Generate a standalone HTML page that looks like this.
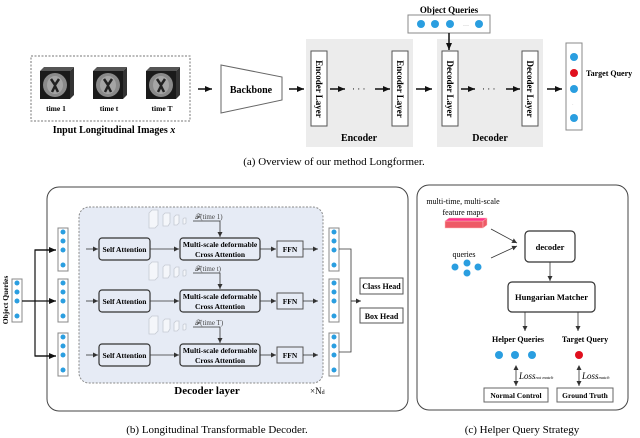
<!DOCTYPE html>
<html><head><meta charset="utf-8"><style>
html,body{margin:0;padding:0;background:#fff}
svg{display:block;font-family:"Liberation Serif",serif}
.b{font-weight:bold}
</style></head><body>
<svg width="640" height="438" viewBox="0 0 640 438" xmlns="http://www.w3.org/2000/svg">
<defs>
<marker id="a" markerWidth="8" markerHeight="8" refX="7" refY="4" orient="auto" markerUnits="userSpaceOnUse"><path d="M0,1 L7,4 L0,7 z" fill="#111"/></marker>
<marker id="s" markerWidth="6" markerHeight="6" refX="5" refY="3" orient="auto" markerUnits="userSpaceOnUse"><path d="M0,0.5 L5,3 L0,5.5 z" fill="#333"/></marker>
<marker id="s2" markerWidth="6" markerHeight="6" refX="1" refY="3" orient="auto" markerUnits="userSpaceOnUse"><path d="M5,0.5 L0,3 L5,5.5 z" fill="#333"/></marker>
<g id="cube">
<path d="M0,4 L4,0 L34,0 L30,4 z" fill="#555"/><path d="M30,4 L34,0 L34,28 L30,32 z" fill="#333"/>
<rect x="0" y="4" width="30" height="28" fill="#1a1a1a"/>
<ellipse cx="15" cy="18" rx="12" ry="12" fill="#8a8a8a"/>
<ellipse cx="15" cy="18" rx="8" ry="9" fill="#a5a5a5"/>
<path d="M11,12 L15,18 L19,12 M12,25 L15,19 L18,25" stroke="#222" stroke-width="2.5" fill="none"/>
</g>
</defs>

<!-- (a) -->
<text x="449" y="13" font-size="9" class="b" text-anchor="middle">Object Queries</text>
<rect x="408" y="15" width="82" height="18" fill="#fff" stroke="#888"/>
<circle cx="421" cy="24" r="4" fill="#2a9ee0"/><circle cx="435" cy="24" r="4" fill="#2a9ee0"/><circle cx="450" cy="24" r="4" fill="#2a9ee0"/><text x="463" y="26" font-size="6" fill="#999">…</text><circle cx="479" cy="24" r="4" fill="#2a9ee0"/>
<rect x="31" y="56" width="159" height="65" fill="none" stroke="#777" stroke-dasharray="2,1.5"/>
<use href="#cube" x="40" y="67"/><use href="#cube" x="93" y="67"/><use href="#cube" x="146" y="67"/>
<text x="56" y="111" font-size="7.5" class="b" text-anchor="middle">time 1</text>
<text x="109" y="111" font-size="7.5" class="b" text-anchor="middle">time t</text>
<text x="162" y="111" font-size="7.5" class="b" text-anchor="middle">time T</text>
<text x="114" y="133" font-size="10" class="b" text-anchor="middle">Input Longitudinal Images <tspan font-style="italic">x</tspan></text>
<line x1="198" y1="89" x2="212" y2="89" stroke="#111" stroke-width="1.5" marker-end="url(#a)"/>
<path d="M221,65 L282,77 L282,100 L221,113 z" fill="#fff" stroke="#666"/>
<text x="251" y="93" font-size="10" class="b" text-anchor="middle">Backbone</text>
<line x1="289" y1="89" x2="304" y2="89" stroke="#111" stroke-width="1.5" marker-end="url(#a)"/>
<rect x="306" y="39" width="107" height="108" fill="#ececec"/>
<rect x="437" y="39" width="106" height="108" fill="#ececec"/>
<rect x="311" y="51" width="16" height="75" fill="#fff" stroke="#555"/>
<rect x="392" y="51" width="16" height="75" fill="#fff" stroke="#555"/>
<rect x="442" y="51" width="16" height="75" fill="#fff" stroke="#555"/>
<rect x="522" y="51" width="16" height="75" fill="#fff" stroke="#555"/>
<g font-size="9" class="b" text-anchor="middle">
<text transform="translate(316,89) rotate(90)">Encoder Layer</text>
<text transform="translate(397,89) rotate(90)">Encoder Layer</text>
<text transform="translate(447,89) rotate(90)">Decoder Layer</text>
<text transform="translate(527,89) rotate(90)">Decoder Layer</text>
</g>
<g stroke="#111" stroke-width="1.5" marker-end="url(#a)">
<line x1="330" y1="89" x2="345" y2="89"/><line x1="375" y1="89" x2="390" y2="89"/>
<line x1="416" y1="89" x2="432" y2="89"/><line x1="461" y1="89" x2="475" y2="89"/>
<line x1="506" y1="89" x2="520" y2="89"/><line x1="547" y1="89" x2="562" y2="89"/>
<line x1="449" y1="33" x2="449" y2="50"/>
</g>
<text x="352" y="92" font-size="9">· · ·</text><text x="482" y="92" font-size="9">· · ·</text>
<text x="359" y="141" font-size="10" class="b" text-anchor="middle">Encoder</text>
<text x="490" y="141" font-size="10" class="b" text-anchor="middle">Decoder</text>
<rect x="566" y="43" width="16" height="87" fill="#fff" stroke="#888"/>
<circle cx="574" cy="57" r="4" fill="#2a9ee0"/><circle cx="574" cy="73" r="4" fill="#e0101e"/><circle cx="574" cy="89" r="4" fill="#2a9ee0"/><text x="572" y="106" font-size="5" fill="#aaa">·</text><circle cx="574" cy="118" r="4" fill="#2a9ee0"/>
<text x="586" y="76" font-size="8" class="b">Target Query</text>
<text x="334" y="165" font-size="11" text-anchor="middle">(a) Overview of our method Longformer.</text>

<!-- (b) -->
<rect x="47" y="187" width="361" height="224" rx="12" fill="#fff" stroke="#444"/>
<rect x="79" y="207" width="244" height="176" rx="10" fill="#e6ebf5" stroke="#888" stroke-dasharray="2,1.5"/>
<text transform="translate(8,300) rotate(-90)" font-size="7.5" class="b" text-anchor="middle">Object Queries</text>
<g id="col"><rect x="12" y="279" width="10" height="43" fill="#fff" stroke="#888"/>
<circle cx="17" cy="283" r="2.5" fill="#2a9ee0"/><circle cx="17" cy="292" r="2.5" fill="#2a9ee0"/><circle cx="17" cy="301" r="2.5" fill="#2a9ee0"/><circle cx="17" cy="316" r="2.5" fill="#2a9ee0"/></g>
<use href="#col" x="46" y="-51"/><use href="#col" x="46" y="0"/><use href="#col" x="46" y="54"/>
<use href="#col" x="317" y="-51"/><use href="#col" x="317" y="0"/><use href="#col" x="317" y="54"/>
<g stroke="#111" stroke-width="1.2" fill="none">
<line x1="22" y1="301" x2="56" y2="301" marker-end="url(#a)"/>
<path d="M56,250 L35,250 L35,356 L56,356"/>
<line x1="35" y1="250" x2="56" y2="250" marker-end="url(#a)"/>
<line x1="35" y1="356" x2="56" y2="356" marker-end="url(#a)"/>
</g>
<g id="row">
<line x1="86" y1="249" x2="98" y2="249" stroke="#333" stroke-width="0.8" marker-end="url(#s)"/>
<rect x="99" y="238" width="51" height="22" rx="3" fill="none" stroke="#333" stroke-width="1.2"/>
<text x="124.5" y="252" font-size="7.5" class="b" text-anchor="middle">Self Attention</text>
<line x1="150" y1="249" x2="179" y2="249" stroke="#333" stroke-width="0.8" marker-end="url(#s)"/>
<rect x="180" y="238" width="80" height="22" rx="3" fill="none" stroke="#333" stroke-width="1.2"/>
<text x="220" y="247" font-size="7.5" class="b" text-anchor="middle">Multi-scale deformable</text>
<text x="220" y="257" font-size="7.5" class="b" text-anchor="middle">Cross Attention</text>
<line x1="260" y1="249" x2="276" y2="249" stroke="#333" stroke-width="0.8" marker-end="url(#s)"/>
<rect x="277" y="241" width="26" height="16" fill="none" stroke="#555"/>
<text x="290" y="252" font-size="7.5" class="b" text-anchor="middle">FFN</text>
<line x1="303" y1="249" x2="318" y2="249" stroke="#333" stroke-width="0.8" marker-end="url(#s)"/>
<path d="M193,221 L220,221 L220,237" fill="none" stroke="#333" stroke-width="0.8" marker-end="url(#s)"/>
<g fill="#f4f6fa" stroke="#c5cad3" stroke-width="0.8">
<path d="M149,213 L152,210 L158,210 L158,225 L155,228 L149,228 z"/>
<path d="M163,215 L165,213 L170,213 L170,223 L168,226 L163,226 z"/>
<path d="M174,217 L176,215 L179,215 L179,223 L177,225 L174,225 z"/>
<path d="M183,219 L184,218 L186,218 L186,223 L185,224 L183,224 z"/>
</g>
</g>
<use href="#row" x="0" y="52"/><use href="#row" x="0" y="106"/>
<text x="195" y="219" font-size="7" fill="#444">𝓕(time 1)</text>
<text x="195" y="271" font-size="7" fill="#444">𝓕(time t)</text>
<text x="195" y="325" font-size="7" fill="#444">𝓕(time T)</text>
<path d="M339,249 L351,249 L351,352 L339,352 M351,301 L360,301" fill="none" stroke="#333" stroke-width="0.8"/>
<line x1="351" y1="301" x2="361" y2="301" stroke="#333" stroke-width="0.8" marker-end="url(#s)"/>
<rect x="360" y="278" width="43" height="16" fill="#fff" stroke="#555"/>
<text x="381.5" y="289" font-size="8" class="b" text-anchor="middle">Class Head</text>
<rect x="360" y="308" width="43" height="15" fill="#fff" stroke="#555"/>
<text x="381.5" y="319" font-size="8" class="b" text-anchor="middle">Box Head</text>
<text x="207" y="394" font-size="11" class="b" text-anchor="middle">Decoder layer</text>
<text x="310" y="394" font-size="9">×N<tspan font-size="6">d</tspan></text>
<text x="217" y="433" font-size="11" text-anchor="middle">(b) Longitudinal Transformable Decoder.</text>

<!-- (c) -->
<rect x="417" y="185" width="211" height="225" rx="12" fill="#fff" stroke="#444"/>
<text x="463" y="204" font-size="8" text-anchor="middle">multi-time, multi-scale</text>
<text x="463" y="215" font-size="8" text-anchor="middle">feature maps</text>
<g fill="#ee5a66" stroke="#fbb" stroke-width="0.5">
<rect x="445" y="221" width="38" height="7"/><path d="M483,221 L487,218 L487,225 L483,228 z"/><path d="M445,221 L449,218 L487,218 L483,221 z" fill="#f38"/>
</g>
<line x1="491" y1="229" x2="517" y2="243" stroke="#333" stroke-width="0.8" marker-end="url(#s)"/>
<line x1="491" y1="258" x2="517" y2="246" stroke="#333" stroke-width="0.8" marker-end="url(#s)"/>
<text x="464" y="257" font-size="8" text-anchor="middle">queries</text>
<circle cx="455" cy="267" r="3.5" fill="#2a9ee0"/><circle cx="467" cy="263" r="3.5" fill="#2a9ee0"/><circle cx="478" cy="267" r="3.5" fill="#2a9ee0"/><circle cx="467" cy="273" r="3.5" fill="#2a9ee0"/>
<rect x="525" y="231" width="50" height="31" rx="4" fill="#fff" stroke="#333" stroke-width="1.2"/>
<text x="550" y="250" font-size="8.5" class="b" text-anchor="middle">decoder</text>
<line x1="550" y1="262" x2="550" y2="281" stroke="#333" stroke-width="0.8" marker-end="url(#s)"/>
<rect x="508" y="282" width="87" height="30" rx="4" fill="#fff" stroke="#333" stroke-width="1.2"/>
<text x="551.5" y="300" font-size="8.5" class="b" text-anchor="middle">Hungarian Matcher</text>
<line x1="525" y1="312" x2="525" y2="331" stroke="#333" stroke-width="0.8" marker-end="url(#s)"/>
<line x1="578" y1="312" x2="578" y2="331" stroke="#333" stroke-width="0.8" marker-end="url(#s)"/>
<text x="518" y="342" font-size="8" class="b" text-anchor="middle">Helper Queries</text>
<text x="585" y="342" font-size="8" class="b" text-anchor="middle">Target Query</text>
<circle cx="499" cy="355" r="4" fill="#2a9ee0"/><circle cx="515" cy="355" r="4" fill="#2a9ee0"/><circle cx="532" cy="355" r="4" fill="#2a9ee0"/><circle cx="579" cy="355" r="4" fill="#e0101e"/>
<line x1="516" y1="366" x2="516" y2="386" stroke="#333" stroke-width="0.8" marker-start="url(#s2)" marker-end="url(#s)"/>
<line x1="579" y1="366" x2="579" y2="386" stroke="#333" stroke-width="0.8" marker-start="url(#s2)" marker-end="url(#s)"/>
<text x="519" y="379" font-size="9" font-style="italic">Loss<tspan font-size="4.5">not match</tspan></text>
<text x="582" y="379" font-size="9" font-style="italic">Loss<tspan font-size="4.5">match</tspan></text>
<rect x="484" y="388" width="64" height="14" fill="#fff" stroke="#666"/>
<text x="516" y="398" font-size="7.5" class="b" text-anchor="middle">Normal Control</text>
<rect x="557" y="388" width="56" height="14" fill="#fff" stroke="#666"/>
<text x="585" y="398" font-size="7.5" class="b" text-anchor="middle">Ground Truth</text>
<text x="522" y="433" font-size="11" text-anchor="middle">(c) Helper Query Strategy</text>
</svg>
</body></html>
